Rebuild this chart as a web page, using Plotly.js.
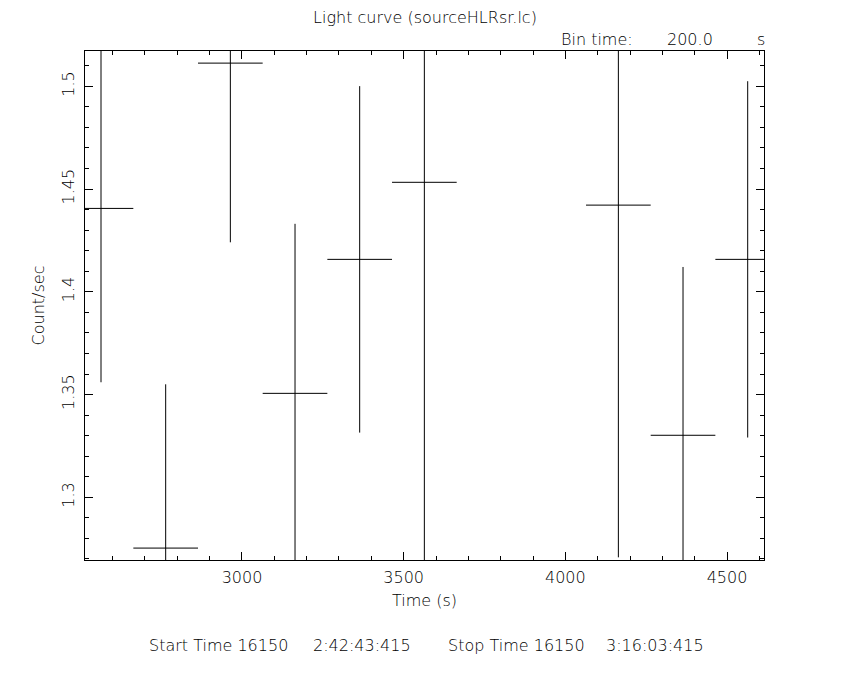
<!DOCTYPE html>
<html>
<head>
<meta charset="utf-8">
<script src="https://cdn.plot.ly/plotly-3.0.1.min.js"></script>
<style>html,body{margin:0;padding:0;background:#fff;}#chart{width:850px;height:680px;}</style>
</head>
<body>
<div id="chart"></div>
<script>
// Light curve data (bin centres in s, count rate, 1-sigma error)
const binTime = [2564, 2764, 2964, 3164, 3364, 3564, 4164, 4364, 4564];
const binHalfWidth = [100, 100, 100, 100, 100, 100, 100, 100, 100];
const countRate = [1.4406, 1.2753, 1.5113, 1.3506, 1.4158, 1.4533, 1.4422, 1.3302, 1.4158];
const countErr = [0.0846, 0.0797, 0.0872, 0.0825, 0.0843, 0.20, 0.1714, 0.0819, 0.0867];

const xRange = [2514.5, 4614.4];
const yRange = [1.2695, 1.5172];

const FONT = {family: 'DejaVu Sans, Liberation Sans, sans-serif', size: 16, color: '#000', weight: 200};

const L = 85.3, R = 764.3, T = 51, B = 560;
const W = 850, H = 680;
const px = x => (x - L) / (R - L);
const py = y => (B - y) / (B - T);

const trace = {
  x: binTime,
  y: countRate,
  type: 'scatter',
  mode: 'markers',
  marker: {size: 1, color: 'rgba(0,0,0,0)'},
  error_x: {type: 'data', array: binHalfWidth, visible: true, width: 0, thickness: 1, color: '#000'},
  error_y: {type: 'data', array: countErr, visible: true, width: 0, thickness: 1, color: '#000'},
  hoverinfo: 'none',
  showlegend: false
};

const axisCommon = {
  showline: true, linecolor: '#000', linewidth: 1, mirror: 'allticks',
  ticks: 'inside', ticklen: 8, tickwidth: 1, tickcolor: '#000',
  showgrid: false, zeroline: false,
  tickfont: FONT
};

const layout = {
  width: W, height: H,
  margin: {l: L, r: W - R, t: T, b: H - B, pad: 0},
  paper_bgcolor: '#fff', plot_bgcolor: '#fff',
  font: FONT,
  title: {text: 'Light curve (sourceHLRsr.lc)', font: FONT, x: 0.5, xanchor: 'center', xref: 'container',
          y: 1 - 17 / H, yanchor: 'middle', yref: 'container'},
  xaxis: Object.assign({}, axisCommon, {
    range: xRange, tick0: 0, dtick: 500, ticklabelstandoff: 3,
    minor: {dtick: 100, tick0: 0, ticks: 'inside', ticklen: 4, tickcolor: '#000', tickwidth: 1},
    title: {text: 'Time (s)', font: FONT, standoff: 8}
  }),
  yaxis: Object.assign({}, axisCommon, {
    range: yRange, tick0: 0, dtick: 0.05, tickangle: -90, ticklabelstandoff: 4,
    minor: {dtick: 0.01, tick0: 0, ticks: 'inside', ticklen: 4, tickcolor: '#000', tickwidth: 1},
    title: {text: 'Count/sec', font: FONT, standoff: 9}
  }),
  annotations: [
    {text: 'Bin time:', x: px(561), y: py(39), xanchor: 'left', yanchor: 'middle'},
    {text: '200.0', x: px(667), y: py(39), xanchor: 'left', yanchor: 'middle'},
    {text: 's', x: px(757), y: py(39), xanchor: 'left', yanchor: 'middle'},
    {text: 'Start Time 16150', x: px(149), y: py(645), xanchor: 'left', yanchor: 'middle'},
    {text: '2:42:43:415', x: px(313), y: py(645), xanchor: 'left', yanchor: 'middle'},
    {text: 'Stop Time 16150', x: px(448), y: py(645), xanchor: 'left', yanchor: 'middle'},
    {text: '3:16:03:415', x: px(606), y: py(645), xanchor: 'left', yanchor: 'middle'}
  ].map(a => Object.assign({xref: 'paper', yref: 'paper', showarrow: false, font: FONT, xshift: -2}, a))
};

Plotly.newPlot('chart', [trace], layout, {displayModeBar: false, staticPlot: true});
</script>
</body>
</html>
